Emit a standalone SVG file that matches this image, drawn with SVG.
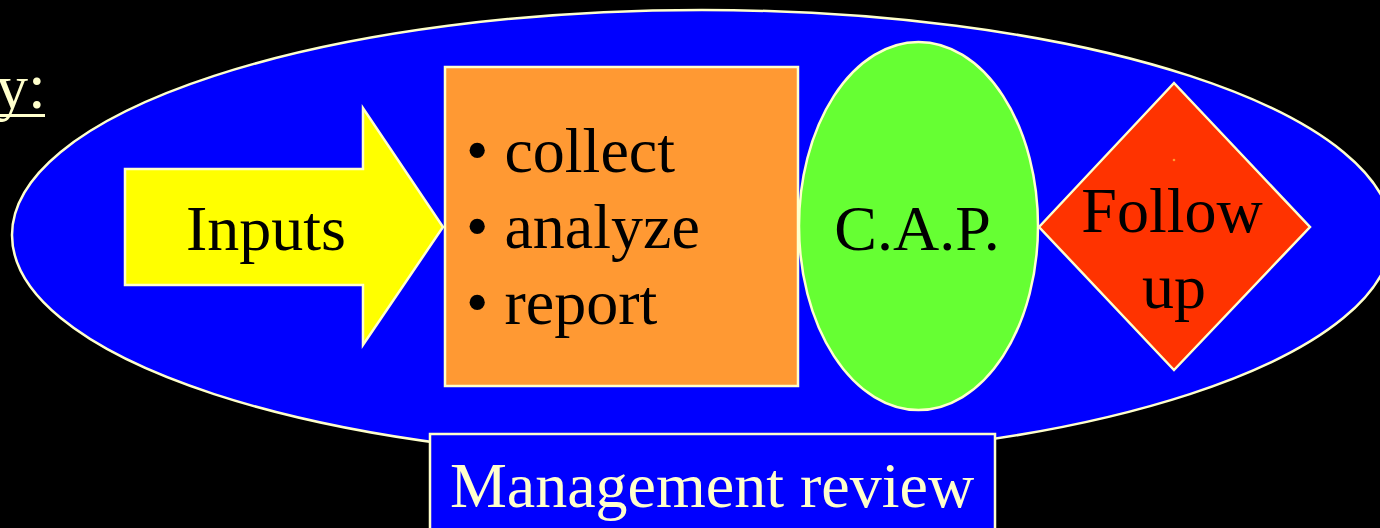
<svg xmlns="http://www.w3.org/2000/svg" width="1380" height="528" viewBox="0 0 1380 528">
  <style>
    .edge { stroke: #FFFFCC; stroke-width: 2.5; }
    .label { font-family: "Liberation Serif", "Times New Roman", serif; font-size: 64px; fill: #000000; }
    .light { fill: #FFFFCC; }
  </style>
  <rect x="0" y="0" width="1380" height="528" fill="#000000"/>

  <!-- heading fragment at top left -->
  <g id="heading">
    <text class="label light" x="-4" y="108">y:</text>
    <rect x="0" y="114" width="45" height="3" fill="#FFFFCC"/>
  </g>

  <!-- large process ellipse -->
  <g id="process">
    <ellipse class="edge" cx="702" cy="235" rx="690" ry="225" fill="#0000FF"/>
  </g>

  <g id="connectors"></g>

  <g id="inputs">
    <path class="edge" d="M125,169 H363 V108 L443,227 L363,345 V285 H125 Z" fill="#FFFF00"/>
    <text class="label" x="266" y="250" text-anchor="middle">Inputs</text>
  </g>

  <g id="steps">
    <rect class="edge" x="445" y="67" width="353" height="319" fill="#FF9933"/>
    <text class="label" x="466" y="172">• collect</text>
    <text class="label" x="466" y="248">• analyze</text>
    <text class="label" x="466" y="324">• report</text>
  </g>

  <g id="cap">
    <ellipse class="edge" cx="918.5" cy="226" rx="119.5" ry="184" fill="#66FF33"/>
    <text class="label" x="917" y="250" text-anchor="middle">C.A.P.</text>
  </g>

  <g id="follow-up">
    <path class="edge" d="M1039,227 L1174,83 L1310,227 L1174,370 Z" fill="#FF3300"/>
    <circle cx="1174" cy="160" r="1.3" fill="#FF9933"/>
    <text class="label" x="1172" y="232" text-anchor="middle">Follow</text>
    <text class="label" x="1174" y="308" text-anchor="middle">up</text>
  </g>

  <g id="management-review">
    <rect class="edge" x="430" y="434" width="565" height="110" fill="#0000FF"/>
    <text class="label light" x="712" y="507" text-anchor="middle">Management review</text>
  </g>
</svg>
